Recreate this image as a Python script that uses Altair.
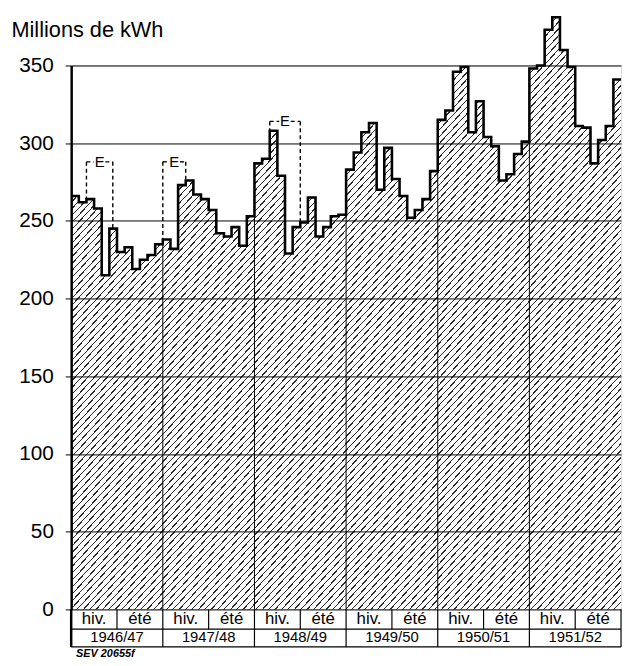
import altair as alt
import pandas as pd

# ---- data ----
years = ["1946/47", "1947/48", "1948/49", "1949/50", "1950/51", "1951/52"]
seasons = ["hiv.", "été"]
v_1946_47 = [266, 262, 264, 258, 215, 245, 230, 233, 219, 225, 228, 235]
v_1947_48 = [238, 232, 273, 276, 267, 264, 257, 242, 240, 246, 234, 253]
v_1948_49 = [287, 290, 308, 279, 229, 246, 249, 265, 240, 246, 253, 254]
v_1949_50 = [283, 294, 307, 313, 270, 297, 277, 266, 252, 257, 264, 282]
v_1950_51 = [315, 321, 346, 349, 307, 327, 304, 298, 276, 280, 293, 301]
v_1951_52 = [348, 350, 373, 381, 360, 349, 311, 310, 287, 302, 311, 341]
e_start = [2.0, 12.0, 26.0]      # month index where dashed "E" box starts
e_end = [5.45, 15.0, 30.0]       # month index where it ends
e_top = [288, 288, 314]          # level of the dashed top line
y_ticks = [0, 50, 100, 150, 200, 250, 300, 350]

values = v_1946_47 + v_1947_48 + v_1948_49 + v_1949_50 + v_1950_51 + v_1951_52
n = len(values)

df = pd.DataFrame({"idx": list(range(n)) + [n], "value": values + [values[-1]]})

bnd = pd.DataFrame({
    "idx": [12 * k for k in range(1, len(years))],
    "value": [0] * (len(years) - 1),
    "hi": [min(values[12 * k - 1], values[12 * k]) for k in range(1, len(years))],
})


def level_at(x):
    i = int(x)
    if abs(x - i) < 1e-9 and i > 0:
        return max(values[i - 1], values[min(i, n - 1)])
    return values[min(i, n - 1)]


gap = 0.75
ebox = pd.DataFrame({
    "xs": e_start, "xe": e_end, "value": e_top,
    "bl": [level_at(x) for x in e_start],
    "br": [level_at(x) for x in e_end],
    "xm": [(a + b) / 2 for a, b in zip(e_start, e_end)],
})
ebox["xm1"] = ebox["xm"] - gap
ebox["xm2"] = ebox["xm"] + gap
ebox["lab"] = "E"

tab_year = pd.DataFrame({"idx": [12 * k for k in range(len(years) + 1)]})
tab_half = pd.DataFrame({"idx": [12 * k + 6 for k in range(len(years))]})
tab_season = pd.DataFrame({
    "idx": [12 * k + 3 + 6 * s for k in range(len(years)) for s in range(2)],
    "lab": [seasons[s] for k in range(len(years)) for s in range(2)],
})
tab_ylab = pd.DataFrame({"idx": [12 * k + 6 for k in range(len(years))], "lab": years})
hline = pd.DataFrame({"a": [0], "b": [n]})

W, H = 557, 551
xs = alt.Scale(domain=[0, n], nice=False, zero=False)
ysc = alt.Scale(domain=[0, 350], nice=False)
FONT = "Liberation Sans"

yaxis = alt.Axis(
    values=y_ticks, title="Millions de kWh", titleAngle=0, titleX=-61, titleY=-29,
    titleAlign="left", titleBaseline="alphabetic", titleFont=FONT, titleFontSize=22,
    titleFontWeight="normal", titleColor="black",
    labelFont=FONT, labelFontSize=21, labelColor="black", labelPadding=12,
    tickSize=6, tickColor="black", tickWidth=1,
    domainColor="black", domainWidth=2.5,
    grid=True, gridColor="black", gridWidth=1, gridOpacity=1, zindex=1)


def Y(f):
    return alt.Y(f, type="quantitative", scale=ysc, axis=yaxis)


def X(f):
    return alt.X(f, type="quantitative", scale=xs, axis=None)


# hatch via sharp-stop gradient
N = 172
stops = []
for k in range(N):
    a = k / N
    b = (k + 0.8) / N
    c = (k + 1) / N
    stops += [alt.GradientStop(color="rgba(0,0,0,0)", offset=a),
              alt.GradientStop(color="rgba(0,0,0,0)", offset=b),
              alt.GradientStop(color="#2a2a2a", offset=b),
              alt.GradientStop(color="#2a2a2a", offset=c)]
hatch = alt.LinearGradient(gradient="linear", stops=stops, x1=0, y1=0, x2=1, y2=1)

area = alt.Chart(df).mark_area(interpolate="step-after", fill=hatch, fillOpacity=1).encode(
    x=X("idx"), y=Y("value"))

line = alt.Chart(df).mark_line(interpolate="step-after", color="black", strokeWidth=2.6).encode(
    x=X("idx"), y=Y("value"))

vbnd = alt.Chart(bnd).mark_rule(color="black", strokeWidth=1).encode(
    x=X("idx"), y=Y("value"), y2="hi:Q")

dash = dict(color="black", strokeWidth=1.4, strokeDash=[4, 3])
e_l = alt.Chart(ebox).mark_rule(**dash).encode(x=X("xs"), y=Y("value"), y2="bl:Q")
e_r = alt.Chart(ebox).mark_rule(**dash).encode(x=X("xe"), y=Y("value"), y2="br:Q")
e_t1 = alt.Chart(ebox).mark_rule(**dash).encode(x=X("xs"), x2="xm1:Q", y=Y("value"))
e_t2 = alt.Chart(ebox).mark_rule(**dash).encode(x=X("xm2"), x2="xe:Q", y=Y("value"))
e_txt = alt.Chart(ebox).mark_text(font=FONT, fontSize=15, color="black", baseline="middle").encode(
    x=X("xm"), y=Y("value"), text="lab:N")

# table below the plot
r1, r2 = H + 20, H + 38
t_h1 = alt.Chart(hline).mark_rule(color="black", strokeWidth=1.2).encode(
    x=X("a"), x2="b:Q", y=alt.value(r1))
t_h2 = alt.Chart(hline).mark_rule(color="black", strokeWidth=1.2).encode(
    x=X("a"), x2="b:Q", y=alt.value(r2))
t_v = alt.Chart(tab_year).mark_rule(color="black", strokeWidth=1.2).encode(
    x=X("idx"), y=alt.value(H), y2=alt.value(r2))
t_left = alt.Chart(hline).mark_rule(color="black", strokeWidth=2.5).encode(
    x=X("a"), y=alt.value(H), y2=alt.value(r2))
t_half = alt.Chart(tab_half).mark_rule(color="black", strokeWidth=1.2).encode(
    x=X("idx"), y=alt.value(H), y2=alt.value(r1))
t_s = alt.Chart(tab_season).mark_text(font=FONT, fontSize=17, color="black", baseline="middle").encode(
    x=X("idx"), y=alt.value(H + 10), text="lab:N")
t_y = alt.Chart(tab_ylab).mark_text(font=FONT, fontSize=15, color="black", baseline="middle").encode(
    x=X("idx"), y=alt.value(H + 28.5), text="lab:N")
sev = alt.Chart(hline).mark_text(font=FONT, fontSize=11, fontStyle="italic", fontWeight="bold",
                                 color="black", align="left", baseline="alphabetic",
                                 text="SEV 20655f").encode(
    x=alt.value(5), y=alt.value(H + 48))

chart = alt.layer(
    area, vbnd, line, e_l, e_r, e_t1, e_t2, e_txt,
    t_h1, t_h2, t_v, t_half, t_left, t_s, t_y, sev,
).properties(
    width=W, height=H,
    autosize=alt.AutoSizeParams(type="none"),
    padding={"left": 64, "top": 54, "right": 2, "bottom": 45},
).configure_view(stroke="black", strokeWidth=1.2).configure(background="white")

chart.save("out.html", embed_options={"renderer": "svg", "actions": False})
